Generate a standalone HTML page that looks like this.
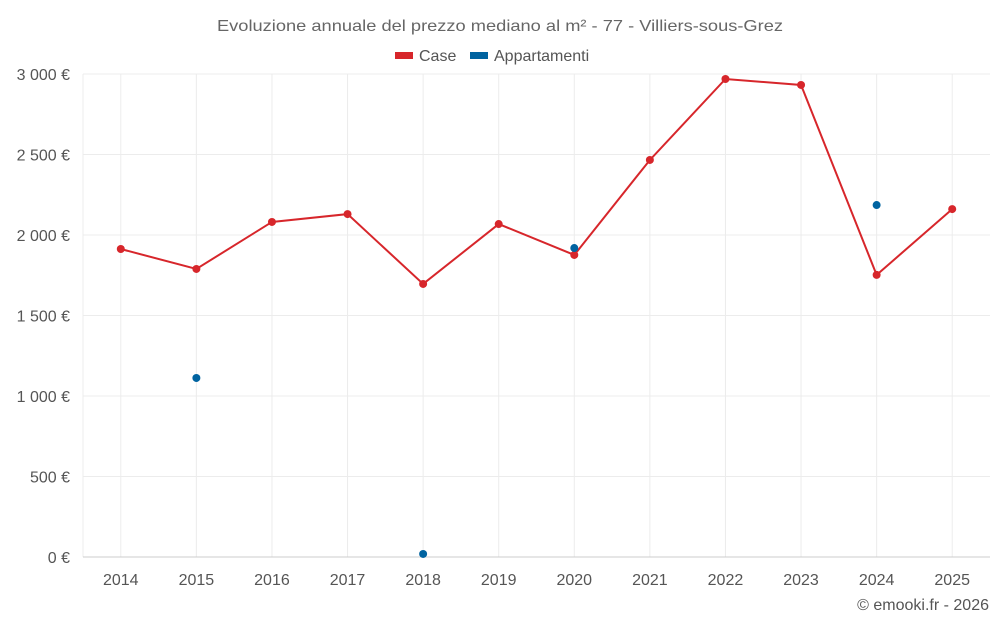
<!DOCTYPE html>
<html><head><meta charset="utf-8"><style>
body{margin:0;background:#fff;font-family:"Liberation Sans",sans-serif;}
svg text{font-family:"Liberation Sans",sans-serif;}
</style></head><body>
<svg id="chart" width="1000" height="625" xmlns="http://www.w3.org/2000/svg">
<text x="500" y="31" text-anchor="middle" font-size="16" fill="#666" textLength="566" lengthAdjust="spacingAndGlyphs">Evoluzione annuale del prezzo mediano al m² - 77 - Villiers-sous-Grez</text>
<g>
<g><rect x="395" y="52" width="18" height="7" fill="#d7262b"/><text x="419" y="61" font-size="16" fill="#555">Case</text></g>
<g><rect x="470" y="52" width="18" height="7" fill="#0063a0"/><text x="494" y="61" font-size="16" fill="#555">Appartamenti</text></g>
</g>
<g id="grid"></g>
<g id="axes"></g>
<g id="series"></g>
<text x="989" y="610" text-anchor="end" font-size="16" fill="#555">© emooki.fr - 2026</text>
</svg>
<script>
const categories=["2014","2015","2016","2017","2018","2019","2020","2021","2022","2023","2024","2025"];
const caseValues=[1913,1789,2081,2130,1696,2068,1876,2466,2969,2932,1752,2161];
const apptValues=[null,1112,null,null,19,null,1919,null,null,null,2186,null];
const yTicks=[0,500,1000,1500,2000,2500,3000];
const yTickLabels=["0 €","500 €","1 000 €","1 500 €","2 000 €","2 500 €","3 000 €"];
const NS="http://www.w3.org/2000/svg";
const L=83,R=990,T=74,B=557,yMax=3000;
const step=(R-L)/categories.length;
const x=i=>L+step*(i+0.5);
const y=v=>B-(v/yMax)*(B-T);
function mk(tag,attrs,parent){const e=document.createElementNS(NS,tag);for(const k in attrs)e.setAttribute(k,attrs[k]);parent.appendChild(e);return e;}
const grid=document.getElementById('grid'),axes=document.getElementById('axes'),series=document.getElementById('series');
const lg=mk('line',{x1:L,x2:L,y1:T,y2:B,stroke:'#ececec'},grid);


categories.forEach((c,i)=>{
 const gl=mk('line',{x1:x(i),x2:x(i),y1:T,y2:B,stroke:'#ececec'},grid);
 
 
 const tx=mk('text',{x:x(i),y:B+28,'text-anchor':'middle','font-size':16,fill:'#555'},axes);
 tx.textContent=c;
 
 
});
yTicks.forEach((t,i)=>{
 const g=mk('line',{x1:L,x2:R,y1:y(t),y2:y(t),stroke:t===0?'#ccc':'#ececec','stroke-width':1},grid);
 
 
 const tx=mk('text',{x:70,y:y(t)+6,'text-anchor':'end','font-size':16,fill:'#555'},axes);
 tx.textContent=yTickLabels[i];
 
 
});
const pts=caseValues.map((v,i)=>x(i)+','+y(v)).join(' ');
const pl=mk('polyline',{points:pts,fill:'none',stroke:'#d7262b','stroke-width':2},series);


caseValues.forEach((v,i)=>{
 const c=mk('circle',{cx:x(i),cy:y(v),r:4,fill:'#d7262b'},series);
 
 
});
apptValues.forEach((v,i)=>{
 if(v===null)return;
 const c=mk('circle',{cx:x(i),cy:y(v),r:4,fill:'#0063a0'},series);
 
 
});
</script>
</body></html>
